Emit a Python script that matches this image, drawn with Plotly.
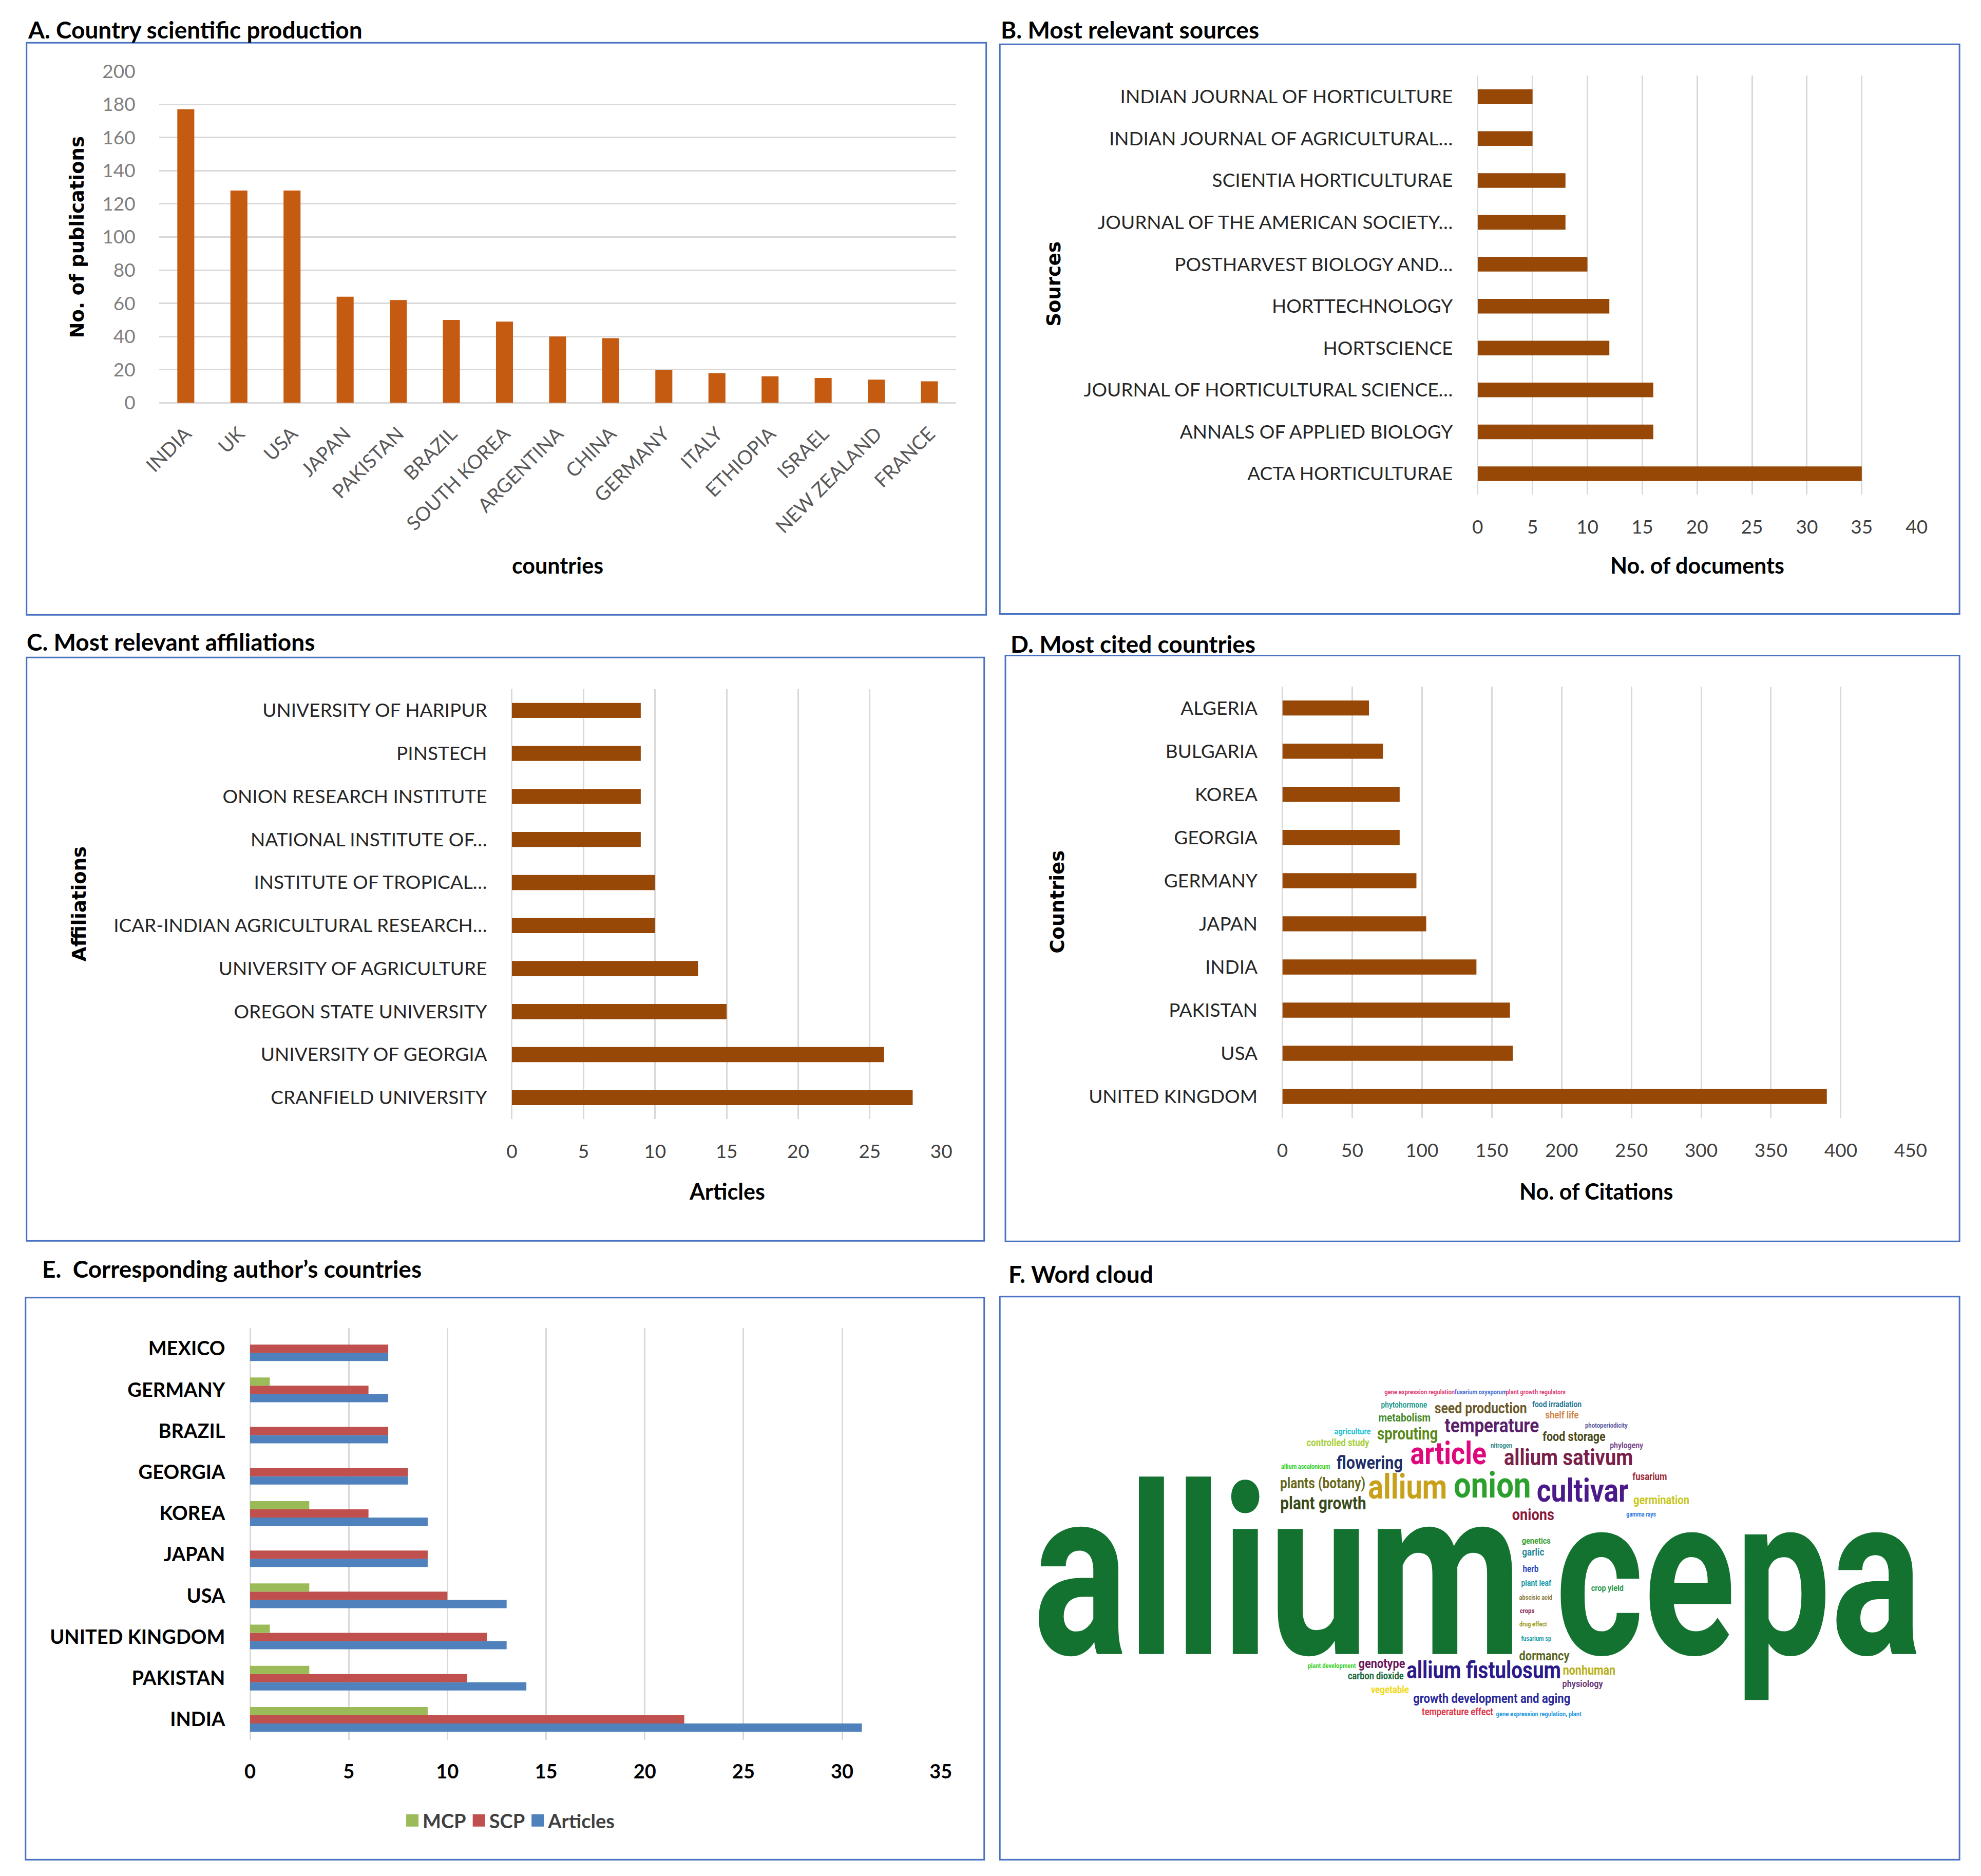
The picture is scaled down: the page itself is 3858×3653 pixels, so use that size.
import plotly.graph_objects as go

W, H = 3858, 3653
FONT = "Lato, 'Open Sans', sans-serif"
WIDE = "'DejaVu Sans', Verdana, sans-serif"
WC_FONT = "Roboto, 'Liberation Sans', sans-serif"

# ---------------- data ----------------
a_countries = ["INDIA", "UK", "USA", "JAPAN", "PAKISTAN", "BRAZIL", "SOUTH KOREA", "ARGENTINA",
               "CHINA", "GERMANY", "ITALY", "ETHIOPIA", "ISRAEL", "NEW ZEALAND", "FRANCE"]
a_pubs = [177, 128, 128, 64, 62, 50, 49, 40, 39, 20, 18, 16, 15, 14, 13]

b_sources = ["ACTA HORTICULTURAE", "ANNALS OF APPLIED BIOLOGY", "JOURNAL OF HORTICULTURAL SCIENCE…",
             "HORTSCIENCE", "HORTTECHNOLOGY", "POSTHARVEST BIOLOGY AND…",
             "JOURNAL OF THE AMERICAN SOCIETY…", "SCIENTIA HORTICULTURAE",
             "INDIAN JOURNAL OF AGRICULTURAL…", "INDIAN JOURNAL OF HORTICULTURE"]
b_docs = [35, 16, 16, 12, 12, 10, 8, 8, 5, 5]

c_affils = ["CRANFIELD UNIVERSITY", "UNIVERSITY OF GEORGIA", "OREGON STATE UNIVERSITY",
            "UNIVERSITY OF AGRICULTURE", "ICAR-INDIAN AGRICULTURAL RESEARCH…", "INSTITUTE OF TROPICAL…",
            "NATIONAL INSTITUTE OF…", "ONION RESEARCH INSTITUTE", "PINSTECH", "UNIVERSITY OF HARIPUR"]
c_articles = [28, 26, 15, 13, 10, 10, 9, 9, 9, 9]

d_countries = ["UNITED KINGDOM", "USA", "PAKISTAN", "INDIA", "JAPAN", "GERMANY", "GEORGIA",
               "KOREA", "BULGARIA", "ALGERIA"]
d_citations = [390, 165, 163, 139, 103, 96, 84, 84, 72, 62]

e_countries = ["INDIA", "PAKISTAN", "UNITED KINGDOM", "USA", "JAPAN", "KOREA", "GEORGIA",
               "BRAZIL", "GERMANY", "MEXICO"]
e_mcp = [9, 3, 1, 3, 0, 3, 0, 0, 1, 0]
e_scp = [22, 11, 12, 10, 9, 6, 8, 7, 6, 7]
e_articles = [31, 14, 13, 13, 9, 9, 8, 7, 7, 7]

wc_words = ["allium", "cepa",
            "gene expression regulation", "fusarium oxysporum", "plant growth regulators",
            "phytohormone", "seed production", "food irradiation", "shelf life", "metabolism",
            "temperature", "photoperiodicity", "agriculture", "sprouting", "food storage",
            "controlled study", "nitrogen", "phylogeny", "article", "allium sativum", "flowering",
            "allium ascalonicum", "fusarium", "plants (botany)", "allium", "onion", "cultivar",
            "germination", "plant growth", "onions", "gamma rays", "genetics", "garlic", "herb",
            "crop yield", "plant leaf", "abscisic acid", "crops", "drug effect", "fusarium sp",
            "dormancy", "plant development", "genotype", "allium fistulosum", "nonhuman",
            "carbon dioxide", "physiology", "vegetable", "growth development and aging",
            "temperature effect", "gene expression regulation, plant"]

# word-cloud layout: (centre x, centre y, drawn width) in canvas pixels, and colour
wc_layout = [
    (2496, 3120, 933, "#13722F"), (3410, 3125, 715, "#13722F"),
    (2778, 2721, 134, "#E0457B"), (2899, 2721, 100, "#4A6FD6"), (3008, 2721, 115, "#E0457B"),
    (2747, 2747, 88, "#2A9D8F"), (2899, 2755, 178, "#6B5A2A"), (3050, 2746, 95, "#2B7A9A"),
    (3060, 2767, 63, "#D2874A"), (2748, 2773, 101, "#4A8A2A"), (2921, 2790, 181, "#5A1F6A"),
    (3148, 2787, 81, "#5A5AA0"), (2645, 2799, 69, "#22C3D6"), (2754, 2805, 116, "#5A8A1A"),
    (3084, 2810, 122, "#4A4A1A"), (2616, 2822, 120, "#A8D03A"), (2940, 2827, 41, "#2A8A8A"),
    (3188, 2827, 63, "#7A4A8A"), (2835, 2847, 143, "#E0077D"), (3073, 2853, 248, "#7A1F4A"),
    (2679, 2862, 126, "#1F2F6A"), (2552, 2868, 95, "#2AD02A"), (3234, 2889, 66, "#9A2A3A"),
    (2586, 2903, 164, "#6A6A1A"), (2754, 2913, 151, "#C8A01A"), (2922, 2910, 148, "#2CA02C"),
    (3101, 2920, 174, "#4B1A8A"), (3257, 2935, 107, "#C8C81A"), (2587, 2943, 166, "#3A4A1A"),
    (3003, 2965, 81, "#8A1A3A"), (3217, 2962, 58, "#2A7AE0"), (3009, 3015, 55, "#3AA03A"),
    (3003, 3037, 42, "#2A8A9A"), (2998, 3070, 30, "#2A4AC8"), (3150, 3108, 62, "#2A9A4A"),
    (3009, 3098, 58, "#1A9AAA"), (3008, 3126, 64, "#8A7A3A"), (2991, 3153, 28, "#8A2A5A"),
    (3003, 3179, 53, "#9A9A1A"), (3009, 3207, 58, "#1A9AAA"), (3025, 3243, 97, "#5A6A2A"),
    (2604, 3261, 92, "#3AD02A"), (2703, 3258, 89, "#6A1A5A"), (2905, 3273, 296, "#2A1A8A"),
    (3114, 3271, 102, "#B8B01A"), (2691, 3282, 107, "#1A6A3A"), (3101, 3297, 77, "#6A3A7A"),
    (2719, 3309, 73, "#F0D81A"), (2921, 3326, 303, "#2A2A9A"), (2853, 3352, 137, "#E03A4A"),
    (3014, 3356, 163, "#2A9AE0"),
]

# approximate advance widths (em) of the word-cloud font, used to size each word to its width
_ADV = dict(zip("abcdefghijklmnopqrstuvwxyz", [.544, .548, .511, .550, .517, .339, .550, .538, .237,
                                               .233, .495, .237, .855, .539, .557, .548, .550, .331,
                                               .503, .319, .538, .473, .733, .484, .462, .484]))
_ADV.update({" ": .248, "(": .33, ")": .33, ",": .21})


def text_em(s):
    return 1.02 * sum(_ADV.get(ch, .5) for ch in s)


def wc_size(word, width):
    scale = 0.75 if width > 500 else 0.85     # horizontal squeeze applied in the page
    return width / (scale * text_em(word))


def px(x):
    return x / W


def py(y):
    return 1 - y / H


GRID = "#D9D9D9"
BROWN = "#974706"

fig = go.Figure()

# A
fig.add_trace(go.Bar(x=a_countries, y=a_pubs, width=0.32, marker=dict(color="#C55A11", line_width=0),
                     xaxis="x", yaxis="y", showlegend=False, hoverinfo="skip"))
# B
fig.add_trace(go.Bar(y=b_sources, x=b_docs, orientation="h", width=0.35,
                     marker=dict(color=BROWN, line_width=0), xaxis="x2", yaxis="y2",
                     showlegend=False, hoverinfo="skip"))
# C
fig.add_trace(go.Bar(y=c_affils, x=c_articles, orientation="h", width=0.35,
                     marker=dict(color=BROWN, line_width=0), xaxis="x3", yaxis="y3",
                     showlegend=False, hoverinfo="skip"))
# D
fig.add_trace(go.Bar(y=d_countries, x=d_citations, orientation="h", width=0.35,
                     marker=dict(color=BROWN, line_width=0), xaxis="x4", yaxis="y4",
                     showlegend=False, hoverinfo="skip"))
# E (grouped)
for name, vals, col, off in [("Articles", e_articles, "#4F81BD", -0.3),
                             ("SCP", e_scp, "#C0504D", -0.1),
                             ("MCP", e_mcp, "#9BBB59", 0.1)]:
    fig.add_trace(go.Bar(y=e_countries, x=vals, name=name, orientation="h", width=0.2, offset=off,
                         marker=dict(color=col, line_width=0), xaxis="x5", yaxis="y5",
                         showlegend=True, hoverinfo="skip"))
# F word cloud
fig.add_trace(go.Scatter(x=[l[0] for l in wc_layout], y=[l[1] for l in wc_layout], text=wc_words,
                         mode="text", textposition="middle center", cliponaxis=False,
                         textfont=dict(family=WC_FONT,
                                       size=[round(wc_size(w, l[2]), 1) for w, l in zip(wc_words, wc_layout)],
                                       color=[l[3] for l in wc_layout], weight="bold"),
                         xaxis="x6", yaxis="y6", showlegend=False, hoverinfo="skip"))

tick_hidden = dict(ticks="outside", tickcolor="rgba(0,0,0,0)")

layout = dict(
    width=W, height=H, margin=dict(l=0, r=0, t=0, b=0),
    paper_bgcolor="white", plot_bgcolor="white",
    font=dict(family=FONT, color="#404040"),
    barmode="group",
    hovermode=False,
    # A
    xaxis=dict(domain=[px(280), px(1859)], anchor="y", type="category", tickangle=-45,
               tickfont=dict(size=38, color="#595959"), showgrid=False, ticklen=22, **tick_hidden),
    yaxis=dict(domain=[py(770), py(116)], anchor="x", range=[0, 200], dtick=20,
               gridcolor=GRID, gridwidth=2.5, zeroline=True, zerolinecolor=GRID, zerolinewidth=2.5,
               tickfont=dict(size=37, color="#7F7F7F"), ticklen=38, **tick_hidden),
    # B
    xaxis2=dict(domain=[px(2893), px(3763)], anchor="y2", range=[0, 40], dtick=5,
                gridcolor=GRID, gridwidth=2.5, zeroline=True, zerolinecolor=GRID, zerolinewidth=2.5,
                tickfont=dict(size=37, color="#404040"), ticklen=30, **tick_hidden),
    yaxis2=dict(domain=[py(951), py(125)], anchor="x2", type="category", showgrid=False,
                tickfont=dict(size=37, color="#262626"), ticklen=40, **tick_hidden),
    # C
    xaxis3=dict(domain=[px(979), px(1830)], anchor="y3", range=[0, 30], dtick=5,
                gridcolor=GRID, gridwidth=2.5, zeroline=True, zerolinecolor=GRID, zerolinewidth=2.5,
                tickfont=dict(size=37, color="#404040"), ticklen=30, **tick_hidden),
    yaxis3=dict(domain=[py(2182), py(1334)], anchor="x3", type="category", showgrid=False,
                tickfont=dict(size=37, color="#262626"), ticklen=40, **tick_hidden),
    # D
    xaxis4=dict(domain=[px(2506), px(3751)], anchor="y4", range=[0, 450], dtick=50,
                gridcolor=GRID, gridwidth=2.5, zeroline=True, zerolinecolor=GRID, zerolinewidth=2.5,
                tickfont=dict(size=37, color="#404040"), ticklen=30, **tick_hidden),
    yaxis4=dict(domain=[py(2180), py(1329)], anchor="x4", type="category", showgrid=False,
                tickfont=dict(size=37, color="#262626"), ticklen=40, **tick_hidden),
    # E
    xaxis5=dict(domain=[px(460), px(1829)], anchor="y5", range=[0, 35], dtick=5,
                gridcolor=GRID, gridwidth=2.5, zeroline=True, zerolinecolor=GRID, zerolinewidth=2.5,
                tickfont=dict(size=38, color="#000000", weight="bold"), ticklen=28, **tick_hidden),
    yaxis5=dict(domain=[py(3406), py(2594)], anchor="x5", type="category", showgrid=False,
                tickfont=dict(size=38, color="#000000", weight="bold"), ticklen=40, **tick_hidden),
    # F
    xaxis6=dict(domain=[px(1946), px(3848)], anchor="y6", range=[1946, 3848], visible=False),
    yaxis6=dict(domain=[py(3642), py(2532)], anchor="x6", range=[3642, 2532], visible=False),
    legend=dict(orientation="h", x=px(975), xanchor="center", y=py(3565), yanchor="middle",
                traceorder="reversed", font=dict(size=38, color="#404040", weight="bold"),
                bgcolor="rgba(0,0,0,0)"),
)
fig.update_layout(**layout)

# panel frames
BOX = "#4A72C2"
frames = [(17, 60, 1919, 1188), (1946, 63, 3848, 1186), (17, 1272, 1915, 2422),
          (1957, 1268, 3848, 2423), (15, 2534, 1915, 3642), (1946, 2532, 3848, 3642)]
for x0, y0, x1, y1 in frames:
    fig.add_shape(type="rect", xref="paper", yref="paper", x0=px(x0), x1=px(x1), y0=py(y0), y1=py(y1),
                  line=dict(color=BOX, width=3), fillcolor="rgba(0,0,0,0)", layer="below")

# panel titles
titles = [("A. Country scientific production", 17, 34), ("B. Most relevant sources", 1946, 34),
          ("C. Most relevant affiliations", 15, 1241), ("D. Most cited countries", 1965, 1245),
          ("E.  Corresponding author’s countries", 46, 2477), ("F. Word cloud", 1961, 2487)]
for t, x, y in titles:
    fig.add_annotation(text=t, xref="paper", yref="paper", x=px(x), y=py(y), xanchor="left",
                       yanchor="middle", showarrow=False,
                       font=dict(family=FONT, size=46, color="#000000", weight="bold"))

# axis titles
axis_titles = [("countries", 1070, 1090, 0, FONT, 43), ("No. of documents", 3328, 1090, 0, FONT, 43),
               ("Articles", 1405, 2324, 0, FONT, 43), ("No. of Citations", 3128, 2324, 0, FONT, 43),
               ("No. of publications", 118, 443, -90, WIDE, 37), ("Sources", 2053, 535, -90, WIDE, 37),
               ("Affiliations", 121, 1758, -90, WIDE, 37), ("Countries", 2060, 1754, -90, WIDE, 37)]
for t, x, y, ang, fam, sz in axis_titles:
    fig.add_annotation(text=t, xref="paper", yref="paper", x=px(x), y=py(y), xanchor="center",
                       yanchor="middle", showarrow=False, textangle=ang,
                       font=dict(family=fam, size=sz, color="#000000", weight="bold"))

POST = """
var de = document.documentElement, bd = document.body;
de.style.margin = '0'; de.style.padding = '0'; de.style.overflow = 'hidden';
bd.style.margin = '0'; bd.style.padding = '0'; bd.style.overflow = 'hidden';
var gd = document.getElementById('{plot_id}');
gd.querySelectorAll('.textpoint text').forEach(function(t){
    t.removeAttribute('transform');
    var fs = parseFloat(t.style.fontSize) || 20;
    var s = fs > 200 ? 0.75 : 0.85;
    var b = t.getBBox();
    var cx = b.x + b.width / 2;
    t.setAttribute('transform', 'translate(' + cx + ',0) scale(' + s + ',1) translate(' + (-cx) + ',0)');
});
gd.querySelectorAll('.legend .legendpoints path').forEach(function(p){
    p.setAttribute('d', 'M12,12H-12V-12H12Z');
});
"""

fig.write_html("out.html", config={"displayModeBar": False}, post_script=POST)
